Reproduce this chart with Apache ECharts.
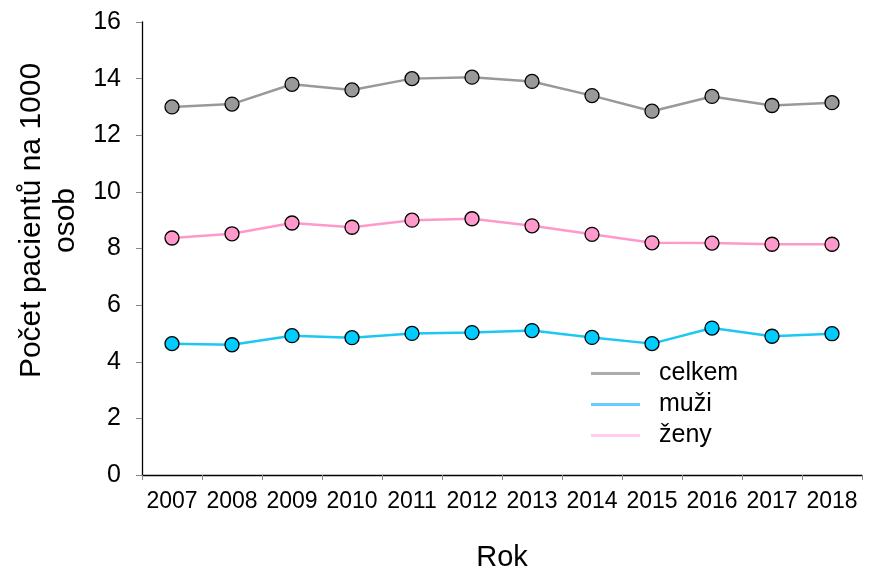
<!DOCTYPE html>
<html>
<head>
<meta charset="utf-8">
<script src="https://cdn.jsdelivr.net/npm/echarts@6/dist/echarts.min.js"></script>
<style>html,body{margin:0;padding:0;background:#fff;}#c{width:872px;height:571px;}</style>
</head>
<body>
<div id="c"></div>
<script>
const years = ['2007','2008','2009','2010','2011','2012','2013','2014','2015','2016','2017','2018'];
const celkem = [13.0, 13.1, 13.8, 13.6, 14.0, 14.05, 13.9, 13.4, 12.85, 13.37, 13.05, 13.15];
const muzi = [4.64, 4.6, 4.92, 4.85, 5.0, 5.03, 5.1, 4.86, 4.64, 5.19, 4.9, 4.99];
const zeny = [8.37, 8.52, 8.9, 8.75, 9.0, 9.05, 8.8, 8.5, 8.2, 8.19, 8.15, 8.15];
const yTicks = {min: 0, max: 16, interval: 2};

const font = 'Liberation Sans, Arial, sans-serif';
const chart = echarts.init(document.getElementById('c'), null, {renderer: 'canvas'});
function ser(name, data, lineColor, markColor) {
  return {
    name: name, type: 'line', data: data,
    symbol: 'circle', symbolSize: 14,
    lineStyle: {color: lineColor, width: 2.5},
    itemStyle: {color: markColor, borderColor: '#000', borderWidth: 1.3},
    emphasis: {disabled: true},
    animation: false
  };
}
chart.setOption({
  backgroundColor: '#fff',
  animation: false,
  textStyle: {fontFamily: font},
  grid: {left: 142, right: 10, top: 22, bottom: 96, containLabel: false, outerBoundsMode: 'none'},
  legend: {
    orient: 'vertical', left: 586, top: 356,
    icon: 'rect', itemWidth: 49, itemHeight: 3, itemGap: 6,
    textStyle: {fontSize: 25, color: '#000', fontFamily: font, padding: [0, 0, 0, 14]},
    data: [
      {name: 'celkem', itemStyle: {color: '#acaaab', borderWidth: 0}},
      {name: 'muži', itemStyle: {color: '#66ccff', borderWidth: 0}},
      {name: 'ženy', itemStyle: {color: '#ffccf4', borderWidth: 0}}
    ]
  },
  xAxis: {
    type: 'category', data: years, boundaryGap: true,
    name: 'Rok', nameLocation: 'middle', nameGap: 68,
    nameTextStyle: {fontSize: 29, color: '#000', fontFamily: font},
    axisLine: {lineStyle: {color: '#000', width: 1.3}},
    axisTick: {show: true, length: 5, lineStyle: {color: '#888'}},
    axisLabel: {fontSize: 23, color: '#000', margin: 15, interval: 0, fontFamily: font}
  },
  yAxis: {
    type: 'value', min: yTicks.min, max: yTicks.max, interval: yTicks.interval,
    name: 'Počet pacientů na 1000\nosob', nameLocation: 'middle', nameGap: 55, nameRotate: 90,
    nameTextStyle: {fontSize: 30, color: '#000', fontFamily: font, lineHeight: 34, padding: [0, 0, 0, 56]},
    axisLine: {show: true, lineStyle: {color: '#000', width: 1.3}},
    axisTick: {show: true, length: 6, lineStyle: {color: '#888'}},
    splitLine: {show: false},
    axisLabel: {fontSize: 25, color: '#000', margin: 21, fontFamily: font}
  },
  series: [
    ser('celkem', celkem, '#999999', '#999999'),
    ser('muži', muzi, '#1cc8f2', '#00ccff'),
    ser('ženy', zeny, '#ff99cc', '#ff99cc')
  ]
});
</script>
</body>
</html>
